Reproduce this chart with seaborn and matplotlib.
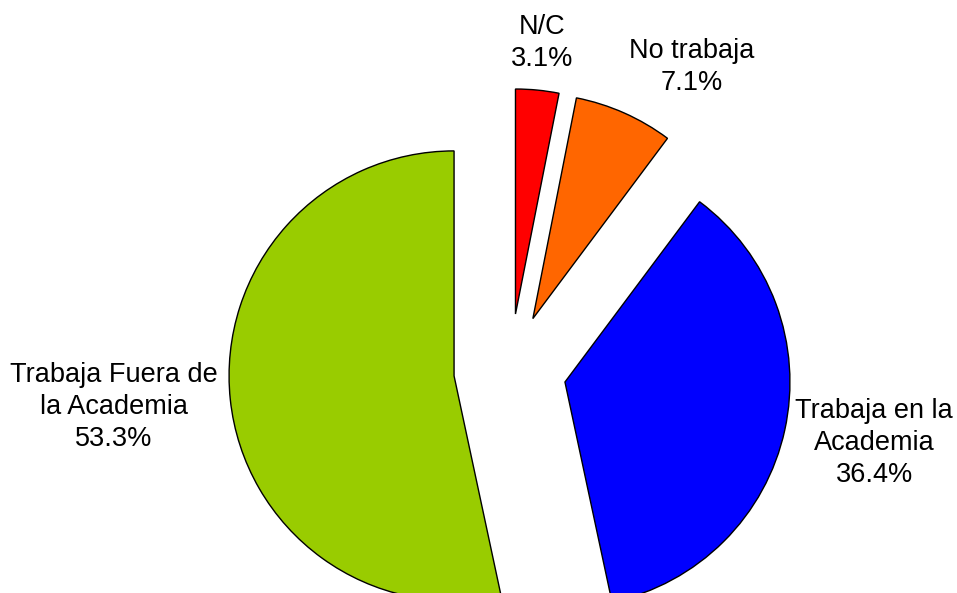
import matplotlib
matplotlib.use("Agg")
import matplotlib.pyplot as plt
import seaborn as sns

# Data
categories = ["N/C", "No trabaja", "Trabaja en la\nAcademia", "Trabaja Fuera de\nla Academia"]
shares = [3.1, 7.1, 36.4, 53.3]
colors = ["#FF0000", "#FF6600", "#0000FF", "#99CC00"]

sns.set_theme(style="white")
plt.rcParams["font.family"] = ["Liberation Sans", "DejaVu Sans"]

fig = plt.figure(figsize=(9.57, 5.93), dpi=100)
ax = fig.add_axes([0, 0, 1, 1])

wedges, _ = ax.pie(
    shares,
    colors=colors,
    startangle=90,
    counterclock=False,
    explode=[0.25] * len(shares),
    wedgeprops=dict(edgecolor="black", linewidth=1),
)

# label placement (data units, pie radius = 1)
label_pos = [(0.142, 1.453), (0.809, 1.347), (1.618, -0.324), (-1.76, -0.164)]
for name, val, (x, y) in zip(categories, shares, label_pos):
    ax.text(x, y, f"{name}\n{val:.1f}%", ha="center", va="center",
            multialignment="center", fontsize=19.5, linespacing=1.32, color="black")

# scale: 225 px per unit, pie centre at (510, 370) px from top-left
ax.set_xlim(-510 / 225, (957 - 510) / 225)
ax.set_ylim(-(593 - 370) / 225, 370 / 225)
ax.set_aspect("equal")
ax.axis("off")

fig.savefig("out.png", dpi=100)
